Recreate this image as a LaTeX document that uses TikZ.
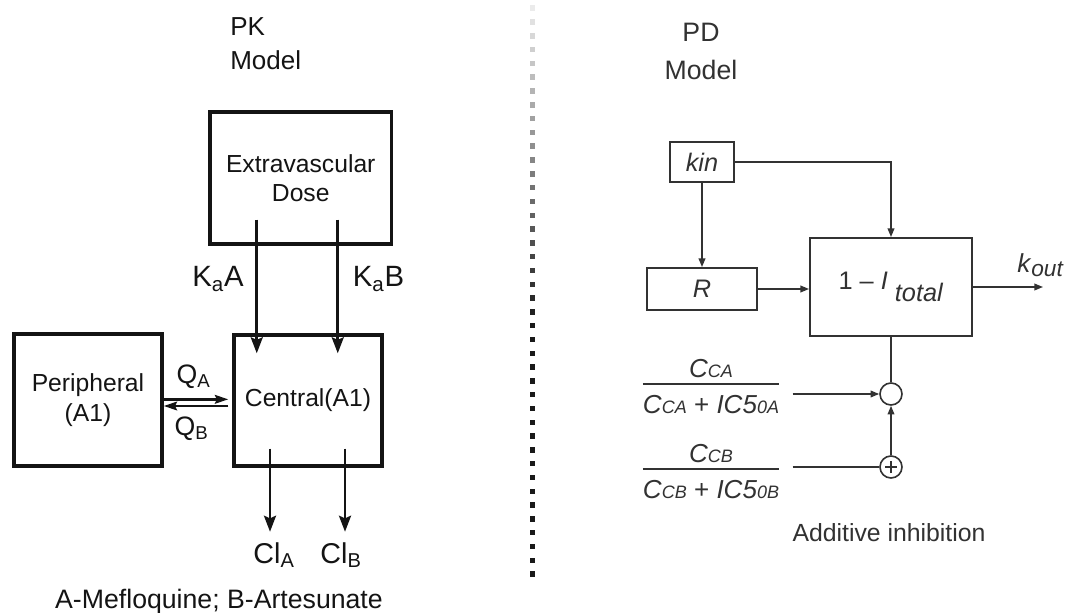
\documentclass[tikz,border=0pt]{standalone}
\usepackage{fontspec}
\setmainfont{Liberation Sans}
\usetikzlibrary{positioning, arrows.meta, calc}
\definecolor{inkdark}{RGB}{20,20,20}
\definecolor{inkgray}{RGB}{50,50,50}

\newcommand{\fsz}[2]{\fontsize{#1}{#2}\selectfont}
\newcommand{\smsub}[1]{{\fontsize{13.5}{14}\selectfont #1}}
\newcommand{\ratio}[2]{{\renewcommand{\arraystretch}{0.6}\setlength{\arrayrulewidth}{1.4pt}%
  \begin{tabular}{@{}c@{}}#1\\\hline\rule{0pt}{21pt}#2\end{tabular}}}

\begin{document}
\begin{tikzpicture}[x=0.75pt, y=-0.75pt,
    pkbox/.style={rectangle, draw=inkdark, line width=2.6pt, inner sep=0pt, align=center, text=inkdark, font=\fsz{18.5}{22}},
    pdbox/.style={rectangle, draw=inkgray, line width=1.4pt, inner sep=0pt, text=inkgray, font={\fsz{19}{22}\itshape}},
    pkarrow/.style={-{Stealth[length=12pt, width=9pt, inset=2pt]}, line width=2pt, draw=inkdark},
    qarrow/.style={-{Stealth[length=10pt, width=6.5pt, inset=1.5pt]}, line width=1.8pt, draw=inkdark},
    pdarrow/.style={-{Triangle[length=6.5pt, width=5pt]}, line width=1.2pt, draw=inkgray},
    pdline/.style={line width=1.2pt, draw=inkgray},
    sumnode/.style={circle, draw=inkgray, line width=1.2pt, minimum size=16.5pt, inner sep=0pt},
    pklabel/.style={inner sep=0pt, text=inkdark, font=\fsz{21.5}{24}},
    pdlabel/.style={inner sep=0pt, text=inkgray, font=\fsz{19.5}{23}}
]
\fill[white] (0,0) rectangle (1067,613);
\useasboundingbox (0,0) rectangle (1067,613);

% PK model
\node[anchor=north west, align=left, inner sep=0pt, text=inkdark, font=\fsz{19.5}{26}] (pktitle) at (230,17) {PK\\Model};
\node[pkbox, minimum width=136pt, minimum height=99pt] (dose) at (300.75,178) {Extravascular\\Dose};
\node[pkbox, minimum width=111pt, minimum height=98.25pt] (central) at (308,400.5) {Central(A1)};
\node[pkbox, minimum width=111pt, minimum height=99pt] (periph) at (88,400) {Peripheral\\(A1)};

% Absorption
\foreach \dx/\n in {-44/A, 37/B} {
    \coordinate (ka\n) at ($(dose.south)+(\dx,-26)$);
    \draw[pkarrow] (ka\n) -- ($(ka\n |- central.north)+(0,20)$);
}
\node[pklabel, font=\fsz{22}{24}] (kaAlab) at (218,279) {K\textsubscript{a}A};
\node[pklabel, font=\fsz{22}{24}] (kaBlab) at (378.5,279) {K\textsubscript{a}B};

% Distribution
\draw[qarrow, shorten >=3pt] ([yshift=0.5pt]periph.east) -- ([yshift=0.5pt]periph.east -| central.west);
\draw[qarrow, shorten <=3pt] ([yshift=-4.5pt]periph.east -| central.west) -- ([yshift=-4.5pt]periph.east);
\node[pklabel, font=\fsz{20}{24}] (qAlab) at (193.5,377) {Q\textsubscript{A}};
\node[pklabel, font=\fsz{20}{24}] (qBlab) at (191.5,429) {Q\textsubscript{B}};

% Clearance
\foreach \dx/\n/\sh in {-38/A/3, 37/B/-3} {
    \coordinate (cl\n) at ($(central.south)+(\dx,-19)$);
    \draw[pkarrow] (cl\n) -- ++(0,83) coordinate (clend\n);
    \node[pklabel, anchor=north] (cllab\n) at ([xshift=\sh pt, yshift=-8pt]clend\n) {Cl\textsubscript{\n}};
}
\node[anchor=base, inner sep=0pt, text=inkdark, font=\fsz{20}{24}] (drugs) at (219,608) {A-Mefloquine; B-Artesunate};

% Divider
\foreach \i in {0,...,41} {
    \pgfmathsetmacro{\dotshade}{min(90, 8+\i*3.6)}
    \fill[black!\dotshade] ($(529.5,5.5)+(0,\i*13.8)$) rectangle ++(5.5,5.5);
}

% PD model
\node[anchor=north, align=center, inner sep=0pt, text=inkgray, font=\fsz{20}{28.5}] (pdtitle) at (701,23) {PD\\Model};
\node[pdbox, minimum width=47.7pt, minimum height=30pt] (kin) at (702,162) {kin};
\node[pdbox, minimum width=82.5pt, minimum height=31.5pt] (resp) at (702,289) {R};
\node[pdbox, minimum width=121.5pt, minimum height=73.5pt, font=\fsz{19}{22}] (inhib) at (891,287) {1 -- \textit{I} \raisebox{-9pt}{\textit{total}}};
\node[sumnode] (sumA) at (891,394) {};
\node[sumnode, path picture={
    \draw[inkgray, line width=0.9pt] ([xshift=-4.5pt]path picture bounding box.center) -- ([xshift=4.5pt]path picture bounding box.center);
    \draw[inkgray, line width=0.9pt] ([yshift=-4.5pt]path picture bounding box.center) -- ([yshift=4.5pt]path picture bounding box.center);
}] (sumB) at (891,467) {};

\node[pdlabel] (fracA) at (711,389) {\ratio{\textit{C}\smsub{\textit{CA}}}{\textit{C}\smsub{\textit{CA}} + \textit{IC5}\smsub{\textit{0A}}}};
\node[pdlabel] (fracB) at (711,474) {\ratio{\textit{C}\smsub{\textit{CB}}}{\textit{C}\smsub{\textit{CB}} + \textit{IC5}\smsub{\textit{0B}}}};

\coordinate (koutend) at (1043,287);
\node[pdlabel, anchor=base west] (koutlab) at (1017,272) {\textit{k}\raisebox{-3.5pt}{\fontsize{17}{17}\selectfont\textit{out}}};
\node[pdlabel, anchor=base, font=\fsz{18.6}{22}] (addlab) at (889,541) {Additive inhibition};

% PD connectors
\draw[pdarrow] (kin) -- (resp);
\draw[pdarrow] (resp.east) -- (resp.east -| inhib.west);
\draw[pdarrow] (kin.east) -| (inhib.north);
\draw[pdarrow] (inhib.east) -- (koutend);
\draw[pdline] (inhib.south) -- (sumA.north);
\draw[pdarrow, shorten <=10pt] (sumA.west -| fracA.east) -- (sumA.west);
\draw[pdline, shorten <=10pt] (sumB.west -| fracB.east) -- (sumB.west);
\draw[pdarrow] (sumB.north) -- (sumA.south);

\end{tikzpicture}
\end{document}
